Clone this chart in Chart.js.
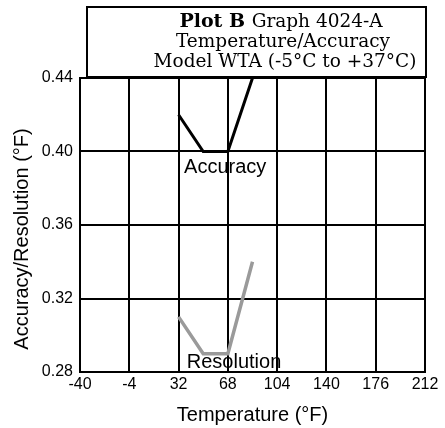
<!DOCTYPE html>
<html>
<head>
<meta charset="utf-8">
<script src="https://cdn.jsdelivr.net/npm/chart.js@4"></script>
<style>
  html, body { margin: 0; padding: 0; background: #fff; }
  #wrap { width: 445px; height: 428px; }
</style>
</head>
<body>
<div id="wrap"><canvas id="tempChart" width="445" height="428"></canvas></div>
<script>
// values
const temps = [32, 50, 68, 86];
const accuracy = [0.42, 0.40, 0.40, 0.44];
const resolution = [0.31, 0.29, 0.29, 0.34];
const xTicks = [-40, -4, 32, 68, 104, 140, 176, 212];
const yTicks = [0.28, 0.32, 0.36, 0.40, 0.44];
const titleLines = ['Graph 4024-A', 'Temperature/Accuracy', 'Model WTA (-5\u00B0C to +37\u00B0C)'];
const yTitle = 'Accuracy/Resolution (\u00B0F)';

const sans = '"Liberation Sans", Arial, sans-serif';
const toPoints = (xs, ys) => xs.map((x, i) => ({ x: x, y: ys[i] }));

// title box, y title and line labels
const extras = {
    id: 'extras',
    afterDraw(chart) {
        const ctx = chart.ctx;
        const xs = chart.scales.x, ys = chart.scales.y;
        ctx.save();
        // box
        ctx.strokeStyle = '#000';
        ctx.lineWidth = 2;
        ctx.fillStyle = '#fff';
        ctx.fillRect(87, 7, 339, 70);
        ctx.strokeRect(87, 7, 339, 70);
        ctx.fillStyle = '#000';
        ctx.textBaseline = 'alphabetic';
        // first line: bold "Plot B" + regular rest
        const f1b = 'bold 19px "DejaVu Serif"';
        const f1 = '18.5px "DejaVu Serif"';
        ctx.font = f1b;
        const wb = ctx.measureText('Plot B ').width;
        ctx.font = f1;
        const wr = ctx.measureText(titleLines[0]).width;
        const sx = 281 - (wb + wr) / 2;
        ctx.textAlign = 'left';
        ctx.font = f1b;
        ctx.fillText('Plot B ', sx, 27);
        ctx.font = f1;
        ctx.fillText(titleLines[0], sx + wb, 27);
        ctx.textAlign = 'center';
        ctx.fillText(titleLines[1], 283, 47);
        ctx.fillText(titleLines[2], 285, 67);
        // y axis title
        ctx.font = '20px ' + sans;
        ctx.save();
        ctx.translate(22, 239);
        ctx.rotate(-Math.PI / 2);
        ctx.textBaseline = 'middle';
        ctx.fillText(yTitle, 0, 0);
        ctx.restore();
        // series labels
        ctx.textAlign = 'left';
        ctx.textBaseline = 'alphabetic';
        ctx.fillText('Accuracy', xs.getPixelForValue(36), ys.getPixelForValue(0.3883));
        ctx.fillText('Resolution', xs.getPixelForValue(38), ys.getPixelForValue(0.2822));
        ctx.restore();
    }
};

const chartCtx = document.getElementById('tempChart').getContext('2d');
const tempChart = new Chart(chartCtx, {
    type: 'line',
    data: {
        datasets: [{
            label: 'Accuracy',
            data: toPoints(temps, accuracy),
            borderColor: '#000',
            borderWidth: 3,
            pointRadius: 0,
            fill: false
        }, {
            label: 'Resolution',
            data: toPoints(temps, resolution),
            borderColor: '#9a9a9a',
            borderWidth: 3.5,
            pointRadius: 0,
            fill: false
        }]
    },
    options: {
        responsive: false,
        animation: false,
        layout: { padding: { top: 78, right: 20, left: 0, bottom: 0 } },
        plugins: {
            legend: { display: false },
            tooltip: { enabled: false }
        },
        scales: {
            x: {
                type: 'linear',
                min: -40,
                max: 212,
                afterBuildTicks: s => { s.ticks = xTicks.map(v => ({ value: v })); },
                afterFit: s => { s.height = 56; },
                grid: { color: '#000', lineWidth: 2, drawTicks: false },
                border: { color: '#000', width: 2 },
                ticks: {
                    color: '#000',
                    padding: 3,
                    font: { family: sans, size: 16 }
                },
                title: {
                    display: true,
                    text: 'Temperature (\u00B0F)',
                    color: '#000',
                    padding: { top: 0, bottom: 1 },
                    font: { family: sans, size: 20 }
                }
            },
            y: {
                min: 0.28,
                max: 0.44,
                afterBuildTicks: s => { s.ticks = yTicks.map(v => ({ value: v })); },
                afterFit: s => { s.width = 80; },
                grid: { color: '#000', lineWidth: 2, drawTicks: false },
                border: { color: '#000', width: 2 },
                ticks: {
                    color: '#000',
                    padding: 7,
                    callback: v => v.toFixed(2),
                    font: { family: sans, size: 16 }
                }
            }
        }
    },
    plugins: [extras]
});
</script>
</body>
</html>
